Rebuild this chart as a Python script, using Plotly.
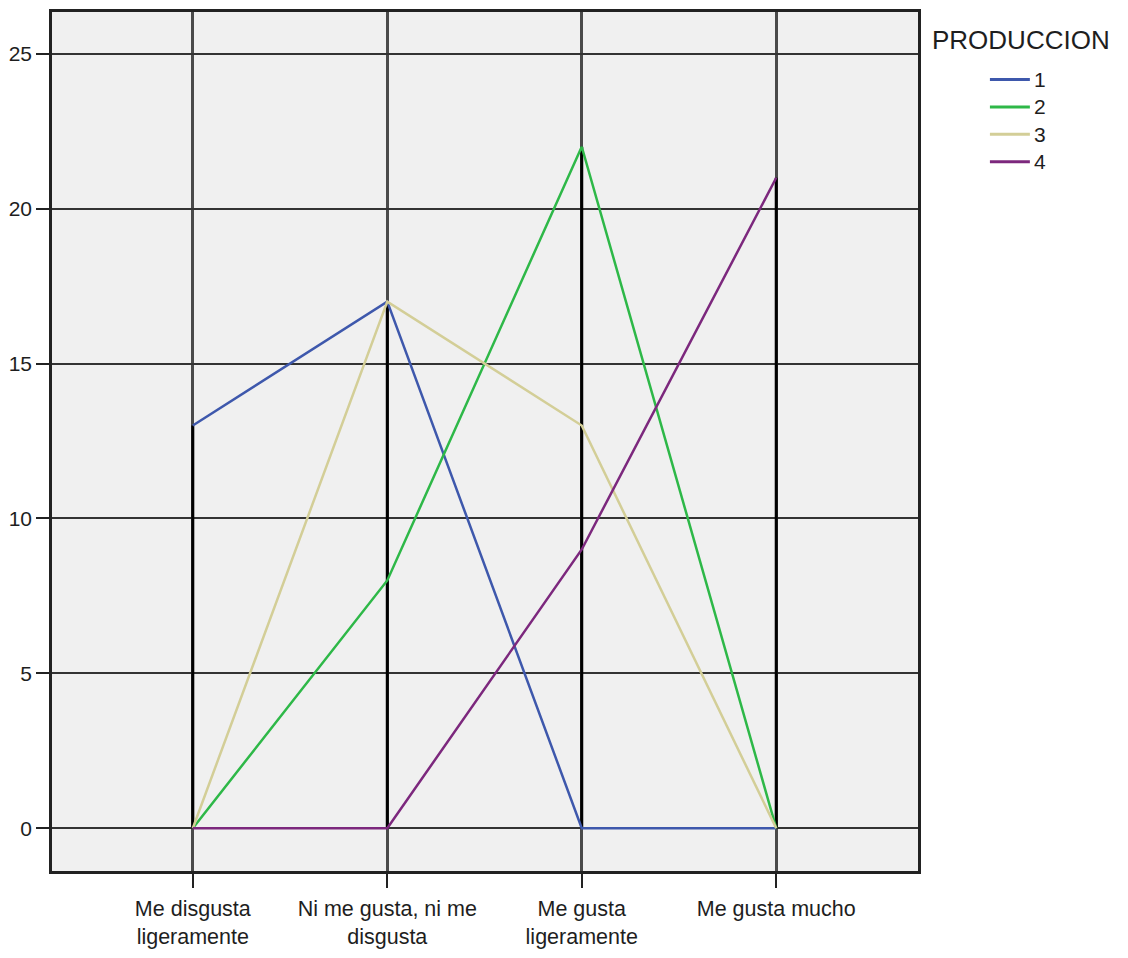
import plotly.graph_objects as go

categories = ["Me disgusta<br>ligeramente", "Ni me gusta, ni me<br>disgusta",
              "Me gusta<br>ligeramente", "Me gusta mucho"]
series_names = ["1", "2", "3", "4"]
series_values = [
    [13, 17, 0, 0],
    [0, 8, 22, 0],
    [0, 17, 13, 0],
    [0, 0, 9, 21],
]
series_colors = ["#3E58AC", "#2EB848", "#D3CE97", "#7C287D"]
y_ticks = [0, 5, 10, 15, 20, 25]
legend_title = "PRODUCCION"

OFF = 8  # default body margin of the html page (all sides)
W, H = 1128 - 2 * OFF, 958 - 2 * OFF
# plot area in page pixels: x 51..918, y 9..887
L, R, T, B = 51 - OFF, (1128 - OFF) - 918, 9 - OFF, (958 - OFF) - 887
pw, ph = W - L - R, H - T - B

def px_x(px):  # page px -> paper
    return (px - OFF - L) / pw

def px_y(py):
    return (H - B - (py - OFF)) / ph

xpos = list(range(len(categories)))
fig = go.Figure()

# drop lines (min to max per category)
for i in xpos:
    vals = [s[i] for s in series_values]
    fig.add_trace(go.Scatter(x=[i, i], y=[min(vals), max(vals)], mode="lines",
                             line=dict(color="#000000", width=3),
                             showlegend=False, hoverinfo="skip"))

for name, vals, col in zip(series_names, series_values, series_colors):
    fig.add_trace(go.Scatter(x=xpos, y=vals, mode="lines", name=name,
                             line=dict(color=col, width=2.5), showlegend=False))

font = "Liberation Sans, Arial, sans-serif"

fig.update_layout(
    width=W, height=H,
    margin=dict(l=L, r=R, t=T, b=B, pad=0),
    paper_bgcolor="white", plot_bgcolor="#F0F0F0",
    font=dict(family=font, size=20, color="#1e1e1e"),
    xaxis=dict(range=[-0.724, 3.729], tickmode="array", tickvals=xpos,
               ticktext=categories, showgrid=True, gridcolor="#4a4a4a", gridwidth=2.5,
               zeroline=False, showline=True, linecolor="#222222", linewidth=2.5,
               mirror=True, ticks="outside", ticklen=14, tickwidth=2, tickcolor="#222222",
               ticklabelstandoff=2,
               tickfont=dict(size=21.5, family=font, color="#1e1e1e")),
    yaxis=dict(range=[-1.38, 26.35], tickmode="array", tickvals=y_ticks,
               showgrid=True, gridcolor="#333333", gridwidth=2,
               zeroline=False, showline=True, linecolor="#222222", linewidth=2.5,
               mirror=True, ticks="outside", ticklen=13, tickwidth=2, tickcolor="#222222",
               tickfont=dict(size=21, family=font, color="#1e1e1e")),
)

# manual legend
annotations = [dict(x=px_x(932), y=px_y(38), xref="paper", yref="paper",
                    text=legend_title, showarrow=False, xanchor="left", yanchor="middle",
                    xshift=-2, font=dict(size=26, family=font, color="#1e1e1e"))]
shapes = []
item_y = [78, 106, 134, 162]
for name, col, yy in zip(series_names, series_colors, item_y):
    shapes.append(dict(type="line", xref="paper", yref="paper",
                       x0=px_x(990), x1=px_x(1030), y0=px_y(yy), y1=px_y(yy),
                       line=dict(color=col, width=3)))
    annotations.append(dict(x=px_x(1032), y=px_y(yy), xref="paper", yref="paper",
                            text=name, showarrow=False, xanchor="left", yanchor="middle",
                            font=dict(size=21, family=font, color="#1e1e1e")))
fig.update_layout(annotations=annotations, shapes=shapes)

fig.write_html("out.html", config={"displayModeBar": False})
